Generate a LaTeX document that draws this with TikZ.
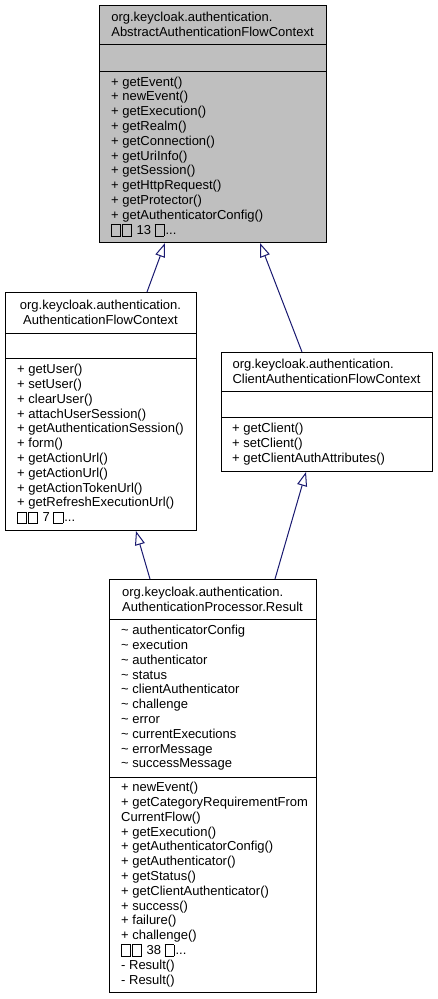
\documentclass[tikz,border=0pt]{standalone}
\usepackage{fontspec}
\setmainfont{Liberation Sans}
\usetikzlibrary{arrows.meta}
% empty glyph boxes as the picture prints them
\newcommand{\tofu}{\raisebox{-1.5pt}{\setlength{\fboxsep}{0pt}\setlength{\fboxrule}{0.6pt}\fbox{\rule{0pt}{11pt}\hspace{8.5pt}}}\hspace{1.2pt}}
\definecolor{edgeblue}{RGB}{25,25,112}

\begin{document}
\begin{tikzpicture}[x=1pt, y=-1pt, >={Triangle[fill=white, length=14pt, width=10pt]},
    classbox/.style={draw=black, line width=1pt, anchor=north west, inner sep=0pt, fill=white},
    members/.style={anchor=west, align=left, inner sep=0pt, font=\fontsize{13}{14.8}\selectfont},
    classname/.style={align=left, inner sep=0pt, font=\fontsize{13}{14.8}\selectfont},
    inherit/.style={draw=edgeblue, line width=1pt, ->}]
    \useasboundingbox (0, 0) rectangle (437, 999);

    % class boxes
    \node[classbox, fill={rgb,255:red,191;green,191;blue,191}, minimum width=227pt, minimum height=237pt] (abstract) at (99, 5) {};
    \node[classbox, minimum width=191pt, minimum height=238pt] (flowctx) at (5, 292) {};
    \node[classbox, minimum width=211pt, minimum height=119pt] (clientctx) at (221, 352) {};
    \node[classbox, minimum width=207pt, minimum height=413pt] (result) at (109, 579) {};

    % compartments
    \draw[line width=1pt] ([yshift=-39pt]abstract.north west) -- ([yshift=-39pt]abstract.north east);
    \draw[line width=1pt] ([yshift=-66pt]abstract.north west) -- ([yshift=-66pt]abstract.north east);
    \draw[line width=1pt] ([yshift=-41pt]flowctx.north west) -- ([yshift=-41pt]flowctx.north east);
    \draw[line width=1pt] ([yshift=-66pt]flowctx.north west) -- ([yshift=-66pt]flowctx.north east);
    \draw[line width=1pt] ([yshift=-39pt]clientctx.north west) -- ([yshift=-39pt]clientctx.north east);
    \draw[line width=1pt] ([yshift=-65pt]clientctx.north west) -- ([yshift=-65pt]clientctx.north east);
    \draw[line width=1pt] ([yshift=-40pt]result.north west) -- ([yshift=-40pt]result.north east);
    \draw[line width=1pt] ([yshift=-198pt]result.north west) -- ([yshift=-198pt]result.north east);

    % names
    \node[classname] (abstractname) at (212.5, 24.5) {org.keycloak.authentication.\\AbstractAuthenticationFlowContext};
    \node[classname, align=center] (flowctxname) at (100.5, 312.5) {org.keycloak.authentication.\\AuthenticationFlowContext};
    \node[classname] (clientctxname) at (326.5, 371.5) {org.keycloak.authentication.\\ClientAuthenticationFlowContext};
    \node[classname] (resultname) at (212.5, 599) {org.keycloak.authentication.\\AuthenticationProcessor.Result};

    % members
    \node[members] (abstractops) at (111, 156.5) {+ getEvent()\\+ newEvent()\\+ getExecution()\\+ getRealm()\\+ getConnection()\\+ getUriInfo()\\+ getSession()\\+ getHttpRequest()\\+ getProtector()\\+ getAuthenticatorConfig()\\\tofu\tofu{} 13 \tofu...};
    \node[members] (flowctxops) at (17, 444) {+ getUser()\\+ setUser()\\+ clearUser()\\+ attachUserSession()\\+ getAuthenticationSession()\\+ form()\\+ getActionUrl()\\+ getActionUrl()\\+ getActionTokenUrl()\\+ getRefreshExecutionUrl()\\\tofu\tofu{} 7 \tofu...};
    \node[members] (clientctxops) at (232, 444) {+ getClient()\\+ setClient()\\+ getClientAuthAttributes()};
    \node[members] (resultattrs) at (121, 698) {\textasciitilde{} authenticatorConfig\\\textasciitilde{} execution\\\textasciitilde{} authenticator\\\textasciitilde{} status\\\textasciitilde{} clientAuthenticator\\\textasciitilde{} challenge\\\textasciitilde{} error\\\textasciitilde{} currentExecutions\\\textasciitilde{} errorMessage\\\textasciitilde{} successMessage};
    \node[members] (resultops) at (121, 884.5) {+ newEvent()\\+ getCategoryRequirementFrom\\CurrentFlow()\\+ getExecution()\\+ getAuthenticatorConfig()\\+ getAuthenticator()\\+ getStatus()\\+ getClientAuthenticator()\\+ success()\\+ failure()\\+ challenge()\\\tofu\tofu{} 38 \tofu...\\- Result()\\- Result()};

    % inheritance
    \draw[inherit] ([xshift=142pt]flowctx.north west) -- ([xshift=66pt]abstract.south west);
    \draw[inherit] ([xshift=81pt]clientctx.north west) -- ([xshift=161pt]abstract.south west);
    \draw[inherit] ([xshift=41pt]result.north west) -- ([xshift=131pt]flowctx.south west);
    \draw[inherit] ([xshift=166pt]result.north west) -- ([xshift=85pt]clientctx.south west);
\end{tikzpicture}
\end{document}
